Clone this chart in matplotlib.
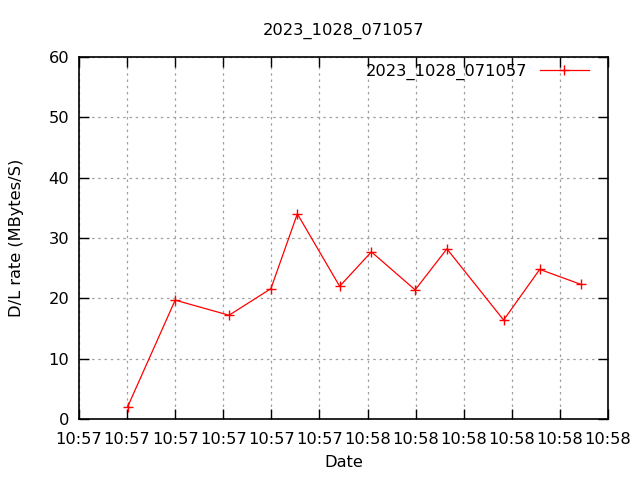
import datetime as dt
import numpy as np
import matplotlib
matplotlib.use('Agg')
import matplotlib.pyplot as plt
import matplotlib.dates as mdates

# data
run_name = '2023_1028_071057'
times = ['10:57:10.1', '10:57:20.0', '10:57:31.2', '10:57:39.9', '10:57:45.4', '10:57:54.2',
         '10:58:00.8', '10:58:09.9', '10:58:16.5', '10:58:28.3', '10:58:35.8', '10:58:44.4']
rates = [2.0, 19.7, 17.2, 21.6, 34.0, 22.0, 27.7, 21.4, 28.2, 16.4, 24.8, 22.3]
x_start = '10:57:00'
x_end = '10:58:50'

day = dt.date(2023, 10, 28)
def to_dt(s):
    return dt.datetime.combine(day, dt.datetime.strptime(s, '%H:%M:%S.%f' if '.' in s else '%H:%M:%S').time())

x = [to_dt(t) for t in times]

fs = 11.7
plt.rcParams['font.family'] = 'DejaVu Sans'
fig = plt.figure(figsize=(6.4, 4.8), dpi=100)
ax = fig.add_axes([79/640, 1-419/480, (608-79)/640, (419-57)/480])

ax.plot(x, rates, color='red', lw=0.9, marker='+', ms=7, mew=1.0, label=run_name)

ax.set_xlim(to_dt(x_start), to_dt(x_end))
ax.set_ylim(0, 60)
ax.set_yticks(np.arange(0, 61, 10))
ax.xaxis.set_major_locator(mdates.SecondLocator(bysecond=range(0, 60, 10)))
ax.xaxis.set_major_formatter(mdates.DateFormatter('%H:%M'))

ax.grid(True, color='#a0a0a0', linestyle=(0, (2, 3)), lw=0.9)
ax.tick_params(direction='in', length=7, width=1, top=True, right=True, labelsize=fs, pad=9)
ax.tick_params(axis='y', pad=7)
for sp in ax.spines.values():
    sp.set_linewidth(1.2)

ax.set_xlabel('Date', fontsize=fs, labelpad=6)
ax.set_ylabel('D/L rate (MBytes/S)', fontsize=fs, labelpad=18)
ax.set_title(run_name, fontsize=fs, pad=16)

leg = ax.legend(loc='upper right', bbox_to_anchor=(0.982, 1.008), frameon=False,
                markerfirst=False, fontsize=fs, handlelength=3.0, borderaxespad=0.2,
                handletextpad=0.8)

fig.savefig('out.png', dpi=100)
